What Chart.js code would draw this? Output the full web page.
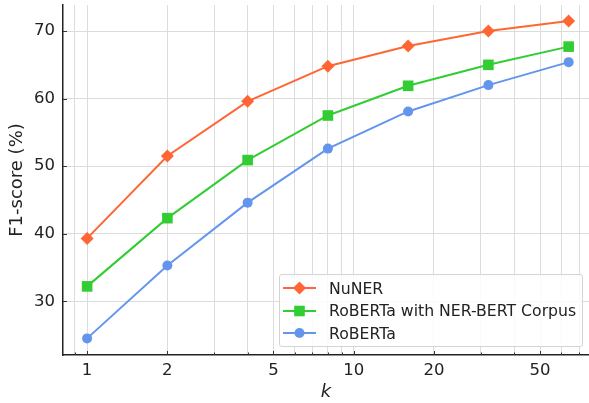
<!DOCTYPE html>
<html>
<head>
<meta charset="utf-8">
<script src="https://cdn.jsdelivr.net/npm/chart.js@4/dist/chart.umd.min.js"></script>
<style>
  html, body { margin: 0; padding: 0; background: #fff; overflow: hidden; }
  #wrap { position: relative; width: 589px; height: 403px; }
  #legend {
    position: absolute; left: 279px; top: 274px; width: 302px; height: 71px;
    border: 1px solid #d4d4d4; border-radius: 3px; background: rgba(255,255,255,0.85);
    font-family: "DejaVu Sans", sans-serif; font-size: 15.7px; color: #222;
  }
  .row { position: absolute; left: 0; height: 22px; display: flex; align-items: center; white-space: nowrap; }
  .row svg { margin-left: 3px; margin-right: 13px; }
</style>
</head>
<body>
<div id="wrap">
  <canvas id="chart" width="589" height="403"></canvas>
  <div id="legend"></div>
</div>
<script>
const kValues = [1, 2, 4, 8, 16, 32, 64];
const nunerScores = [39.3, 51.5, 59.6, 64.8, 67.8, 70.0, 71.5];
const robertaCorpusScores = [32.2, 42.3, 50.9, 57.5, 61.9, 65.0, 67.7];
const robertaScores = [24.5, 35.3, 44.6, 52.6, 58.1, 62.0, 65.4];
const seriesNames = ["NuNER", "RoBERTa with NER-BERT Corpus", "RoBERTa"];
const xTickLabels = [1, 2, 5, 10, 20, 50];
const yTickLabels = [30, 40, 50, 60, 70];

const colors = ["#ff6633", "#32cd32", "#6495ed"];
const markers = ["rectRot", "rect", "circle"];
const radii = [6.5, 7.5, 5];

function toPoints(ys) {
  return kValues.map((k, i) => ({ x: k, y: ys[i] }));
}

const allSeries = [nunerScores, robertaCorpusScores, robertaScores];
const datasets = allSeries.map((ys, i) => ({
  label: seriesNames[i],
  data: toPoints(ys),
  borderColor: colors[i],
  backgroundColor: colors[i],
  borderWidth: 2,
  pointStyle: markers[i],
  pointRadius: radii[i],
  pointHoverRadius: radii[i],
  pointBorderWidth: 0,
  order: 3 - i
}));

// every integer position per decade gets a grid line, like the minor ticks
function logGridValues(min, max) {
  const out = [];
  for (let e = -1; e <= 2; e++) {
    for (let s = 1; s <= 9; s++) {
      const v = s * Math.pow(10, e);
      if (v >= min && v <= max) out.push(v);
    }
  }
  return out;
}

// small inward tick marks (matplotlib style)
const innerTicks = {
  id: "innerTicks",
  afterDraw(chart) {
    const { ctx, chartArea } = chart;
    const xs = chart.scales.x, ys = chart.scales.y;
    ctx.save();
    ctx.strokeStyle = "#333";
    ctx.lineWidth = 1;
    xs.ticks.forEach((t, i) => {
      const px = Math.round(xs.getPixelForTick(i)) + 0.5;
      const len = xTickLabels.includes(+t.value.toPrecision(6)) ? 4 : 2.5;
      ctx.beginPath();
      ctx.moveTo(px, chartArea.bottom);
      ctx.lineTo(px, chartArea.bottom - len);
      ctx.stroke();
    });
    ys.ticks.forEach((t, i) => {
      const py = Math.round(ys.getPixelForTick(i)) + 0.5;
      ctx.beginPath();
      ctx.moveTo(chartArea.left, py);
      ctx.lineTo(chartArea.left + 4, py);
      ctx.stroke();
    });
    ctx.restore();
  }
};

new Chart(document.getElementById("chart"), {
  type: "line",
  data: { datasets },
  plugins: [innerTicks],
  options: {
    responsive: false,
    animation: false,
    layout: { autoPadding: false, padding: { top: 5, right: 0, left: 0, bottom: 0 } },
    plugins: { legend: { display: false }, tooltip: { enabled: false } },
    scales: {
      x: {
        type: "logarithmic",
        min: 0.812,
        max: 76.3,
        afterFit(scale) {
          scale.height = 48;
          scale.paddingLeft = 0;
          scale.paddingRight = 0;
        },
        afterBuildTicks(scale) {
          scale.ticks = logGridValues(0.812, 76.3).map(v => ({ value: v }));
        },
        grid: { color: "#dcdcdc", lineWidth: 1, drawTicks: false },
        border: { color: "#222", width: 1.5 },
        ticks: {
          autoSkip: false,
          maxRotation: 0,
          padding: 6,
          color: "#222",
          font: { family: "DejaVu Sans", size: 16.5 },
          callback(v) {
            const r = +Number(v).toPrecision(6);
            return xTickLabels.includes(r) ? String(r) : "";
          }
        },
        title: {
          display: true,
          text: "k",
          color: "#222",
          padding: { top: 0, bottom: 0 },
          font: { family: "DejaVu Sans", size: 18, style: "italic" }
        }
      },
      y: {
        min: 22.04,
        max: 73.86,
        afterFit(scale) {
          scale.width = 63;
          scale.paddingTop = 0;
          scale.paddingBottom = 0;
        },
        afterBuildTicks(scale) {
          scale.ticks = yTickLabels.map(v => ({ value: v }));
        },
        grid: { color: "#dcdcdc", lineWidth: 1, drawTicks: false },
        border: { color: "#222", width: 1.5 },
        ticks: {
          padding: 8,
          color: "#222",
          font: { family: "DejaVu Sans", size: 16.5 }
        },
        title: {
          display: true,
          text: "F1-score (%)",
          color: "#222",
          padding: { top: 7, bottom: 0 },
          font: { family: "DejaVu Sans", size: 18 }
        }
      }
    }
  }
});

// legend built from the same series names / colours
const legend = document.getElementById("legend");
seriesNames.forEach((name, i) => {
  const row = document.createElement("div");
  row.className = "row";
  row.style.top = (2 + i * 22.5) + "px";
  let mark;
  if (markers[i] === "rectRot") mark = `<polygon points="16.5,4.5 23,11 16.5,17.5 10,11" fill="${colors[i]}"/>`;
  else if (markers[i] === "rect") mark = `<rect x="11.2" y="5.7" width="10.6" height="10.6" fill="${colors[i]}"/>`;
  else mark = `<circle cx="16.5" cy="11" r="5" fill="${colors[i]}"/>`;
  row.innerHTML = `<svg width="33" height="22"><line x1="0" y1="11" x2="33" y2="11" stroke="${colors[i]}" stroke-width="2"/>${mark}</svg><span>${name}</span>`;
  legend.appendChild(row);
});
</script>
</body>
</html>
